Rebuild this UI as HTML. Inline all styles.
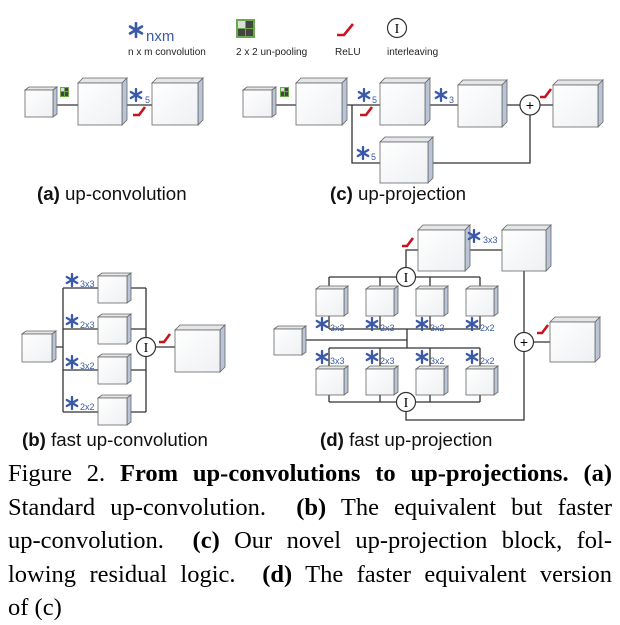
<!DOCTYPE html>
<html><head><meta charset="utf-8"><style>
body{margin:0;width:620px;height:621px;background:#fff;overflow:hidden;position:relative}
svg{position:absolute;left:0;top:0}
.cap{position:absolute;left:8px;top:457px;width:604px;font-family:"Liberation Serif",serif;font-size:24.5px;line-height:33.5px;color:#000}
.cap div{text-align:justify;text-align-last:justify;white-space:nowrap}
.cap div.l{text-align-last:left}
</style></head><body>
<svg width="620" height="460" viewBox="0 0 620 460" font-family="Liberation Sans, sans-serif">
<defs>
<linearGradient id="fg" x1="0" y1="0" x2="1" y2="1"><stop offset="0" stop-color="#fff"/><stop offset="1" stop-color="#eef0f3"/></linearGradient>
<symbol id="ast" viewBox="-7 -7 14 14" overflow="visible"><g stroke="#3a5aa8" stroke-width="2.3" stroke-linecap="round"><line x1="0" y1="-6" x2="0" y2="6"/><line x1="-5.2" y1="-3" x2="5.2" y2="3"/><line x1="-5.2" y1="3" x2="5.2" y2="-3"/></g></symbol>
</defs>
<style>
.fr{fill:url(#fg);stroke:#666;stroke-width:.8}.tp{fill:#e4e6ea;stroke:#666;stroke-width:.8}.sd{fill:#b9c4d6;stroke:#666;stroke-width:.8}
.ln{stroke:#333;stroke-width:1.3;fill:none}.re{stroke:#c8141e;stroke-width:2.6;fill:none}
.sub{fill:#3a5aa8;font-size:9px}.cir{fill:#fff;stroke:#333;stroke-width:1.2}
.lab{font-size:18.7px;fill:#111}.leg{font-size:10px;fill:#222}
</style>

<!-- legend -->
<use href="#ast" x="128" y="22" width="16" height="16"/>
<text x="146" y="41" fill="#3a5aa8" font-size="15">nxm</text>
<text x="128" y="55" class="leg">n x m convolution</text>
<rect x="236" y="19" width="19" height="19" fill="#6aaa4a"/>
<rect x="238" y="21" width="7" height="7" fill="#ddd"/><rect x="246" y="21" width="7" height="7" fill="#444"/>
<rect x="238" y="29" width="7" height="7" fill="#444"/><rect x="246" y="29" width="7" height="7" fill="#444"/>
<text x="236" y="55" class="leg">2 x 2 un-pooling</text>
<path class="re" d="M337 35 h7 l9 -11"/>
<text x="335" y="55" class="leg">ReLU</text>
<circle cx="397" cy="28" r="9.5" class="cir"/><text x="397" y="33" text-anchor="middle" font-family="Liberation Serif,serif" font-size="14">I</text>
<text x="387" y="55" class="leg">interleaving</text>

<!-- (a) -->
<path class="ln" d="M54 105 H78 M122 105 H152"/>
<g><polygon class="tp" points="25,90 29,87 57,87 53,90"/><polygon class="sd" points="53,90 57,87 57,114 53,117"/><rect class="fr" x="25" y="90" width="28" height="27"/></g>
<rect x="60" y="87" width="9" height="10" fill="#6aaa4a"/><rect x="61" y="88" width="3" height="3" fill="#ddd"/><rect x="65" y="88" width="3" height="3" fill="#444"/><rect x="61" y="92" width="3" height="4" fill="#444"/><rect x="65" y="92" width="3" height="4" fill="#444"/>
<g><polygon class="tp" points="78,83 83,78 127,78 122,83"/><polygon class="sd" points="122,83 127,78 127,120 122,125"/><rect class="fr" x="78" y="83" width="44" height="42"/></g>
<use href="#ast" x="129" y="88" width="14" height="14"/><text x="145" y="103" class="sub" font-size="11">5</text>
<path class="re" d="M133 115 h6 l6 -8"/>
<g><polygon class="tp" points="152,83 157,78 203,78 198,83"/><polygon class="sd" points="198,83 203,78 203,120 198,125"/><rect class="fr" x="152" y="83" width="46" height="42"/></g>
<text x="37" y="200" class="lab"><tspan font-weight="bold">(a)</tspan> up-convolution</text>

<!-- (c) -->
<path class="ln" d="M272 105 H296 M342 105 H380 M352 105 V163 H380 M425 105 H458 M502 105 H520 M540 105 H553 M428 163 H530 V115"/>
<g><polygon class="tp" points="243,90 247,87 276,87 272,90"/><polygon class="sd" points="272,90 276,87 276,114 272,117"/><rect class="fr" x="243" y="90" width="29" height="27"/></g>
<rect x="280" y="87" width="9" height="10" fill="#6aaa4a"/><rect x="281" y="88" width="3" height="3" fill="#ddd"/><rect x="285" y="88" width="3" height="3" fill="#444"/><rect x="281" y="92" width="3" height="4" fill="#444"/><rect x="285" y="92" width="3" height="4" fill="#444"/>
<g><polygon class="tp" points="296,83 301,78 347,78 342,83"/><polygon class="sd" points="342,83 347,78 347,120 342,125"/><rect class="fr" x="296" y="83" width="46" height="42"/></g>
<use href="#ast" x="357" y="88" width="14" height="14"/><text x="372" y="103" class="sub" font-size="11">5</text>
<path class="re" d="M360 115 h6 l6 -8"/>
<g><polygon class="tp" points="380,83 385,78 430,78 425,83"/><polygon class="sd" points="425,83 430,78 430,120 425,125"/><rect class="fr" x="380" y="83" width="45" height="42"/></g>
<use href="#ast" x="434" y="88" width="14" height="14"/><text x="449" y="103" class="sub" font-size="11">3</text>
<g><polygon class="tp" points="458,85 463,80 507,80 502,85"/><polygon class="sd" points="502,85 507,80 507,122 502,127"/><rect class="fr" x="458" y="85" width="44" height="42"/></g>
<circle cx="530" cy="105" r="10" class="cir"/><text x="530" y="110" text-anchor="middle" font-size="14">+</text>
<path class="re" d="M540 97 h5 l6 -8"/>
<g><polygon class="tp" points="553,85 558,80 603,80 598,85"/><polygon class="sd" points="598,85 603,80 603,122 598,127"/><rect class="fr" x="553" y="85" width="45" height="42"/></g>
<use href="#ast" x="356" y="146" width="14" height="14"/><text x="371" y="160" class="sub" font-size="11">5</text>
<g><polygon class="tp" points="380,142 385,137 433,137 428,142"/><polygon class="sd" points="428,142 433,137 433,178 428,183"/><rect class="fr" x="380" y="142" width="48" height="41"/></g>
<text x="330" y="200" class="lab"><tspan font-weight="bold">(c)</tspan> up-projection</text>

<!-- (b) -->
<path class="ln" d="M52 347 H63 M63 288 V412 M63 288 H98 M63 329 H98 M63 370 H98 M63 412 H98 M128 288 H146 M128 329 H146 M128 370 H146 M128 412 H146 M146 288 V412 M155 347 H175"/>
<g><polygon class="tp" points="22,334 26,331 56,331 52,334"/><polygon class="sd" points="52,334 56,331 56,359 52,362"/><rect class="fr" x="22" y="334" width="30" height="28"/></g>
<g><polygon class="tp" points="98,276 102,273 131,273 127,276"/><polygon class="sd" points="127,276 131,273 131,300 127,303"/><rect class="fr" x="98" y="276" width="29" height="27"/></g>
<g><polygon class="tp" points="98,317 102,314 131,314 127,317"/><polygon class="sd" points="127,317 131,314 131,341 127,344"/><rect class="fr" x="98" y="317" width="29" height="27"/></g>
<g><polygon class="tp" points="98,357 102,354 131,354 127,357"/><polygon class="sd" points="127,357 131,354 131,381 127,384"/><rect class="fr" x="98" y="357" width="29" height="27"/></g>
<g><polygon class="tp" points="98,398 102,395 131,395 127,398"/><polygon class="sd" points="127,398 131,395 131,422 127,425"/><rect class="fr" x="98" y="398" width="29" height="27"/></g>
<use href="#ast" x="65" y="273" width="14" height="14"/><text x="80" y="287" class="sub">3x3</text>
<use href="#ast" x="65" y="314" width="14" height="14"/><text x="80" y="328" class="sub">2x3</text>
<use href="#ast" x="65" y="355" width="14" height="14"/><text x="80" y="369" class="sub">3x2</text>
<use href="#ast" x="65" y="396" width="14" height="14"/><text x="80" y="410" class="sub">2x2</text>
<circle cx="146" cy="347" r="9.5" class="cir"/><text x="146" y="352" text-anchor="middle" font-family="Liberation Serif,serif" font-size="14">I</text>
<path class="re" d="M159 342 h5 l6 -8"/>
<g><polygon class="tp" points="175,330 180,325 225,325 220,330"/><polygon class="sd" points="220,330 225,325 225,367 220,372"/><rect class="fr" x="175" y="330" width="45" height="42"/></g>
<text x="22" y="446" class="lab"><tspan font-weight="bold">(b)</tspan> fast up-convolution</text>

<!-- (d) -->
<path class="ln" d="M406 267 V250 H418 M465 250 H502 M329 277 H480 M329 277 V287 M380 277 V287 M430 277 V287 M480 277 V287
M329 316 V329 M380 316 V329 M430 316 V329 M480 316 V329 M329 329 H480 M407 329 V348 M302 340 H407 M329 348 H480 M329 348 V367 M380 348 V367 M430 348 V367 M480 348 V367
M329 395 V402 M380 395 V402 M430 395 V402 M480 395 V402 M329 402 H480 M406 412 V420 H524 V351 M524 332 V270 M534 342 H550"/>
<g><polygon class="tp" points="418,230 423,225 470,225 465,230"/><polygon class="sd" points="465,230 470,225 470,266 465,271"/><rect class="fr" x="418" y="230" width="47" height="41"/></g>
<path class="re" d="M402 246 h5 l6 -8"/>
<use href="#ast" x="467" y="229" width="14" height="14"/><text x="483" y="243" class="sub">3x3</text>
<g><polygon class="tp" points="502,230 507,225 551,225 546,230"/><polygon class="sd" points="546,230 551,225 551,266 546,271"/><rect class="fr" x="502" y="230" width="44" height="41"/></g>
<circle cx="406" cy="277" r="9.5" class="cir"/><text x="406" y="282" text-anchor="middle" font-family="Liberation Serif,serif" font-size="14">I</text>
<g><polygon class="tp" points="316,289 320,286 348,286 344,289"/><polygon class="sd" points="344,289 348,286 348,313 344,316"/><rect class="fr" x="316" y="289" width="28" height="27"/></g>
<g><polygon class="tp" points="366,289 370,286 398,286 394,289"/><polygon class="sd" points="394,289 398,286 398,313 394,316"/><rect class="fr" x="366" y="289" width="28" height="27"/></g>
<g><polygon class="tp" points="416,289 420,286 448,286 444,289"/><polygon class="sd" points="444,289 448,286 448,313 444,316"/><rect class="fr" x="416" y="289" width="28" height="27"/></g>
<g><polygon class="tp" points="466,289 470,286 498,286 494,289"/><polygon class="sd" points="494,289 498,286 498,313 494,316"/><rect class="fr" x="466" y="289" width="28" height="27"/></g>
<use href="#ast" x="315" y="317" width="14" height="14"/><text x="330" y="331" class="sub">3x3</text>
<use href="#ast" x="365" y="317" width="14" height="14"/><text x="380" y="331" class="sub">2x3</text>
<use href="#ast" x="415" y="317" width="14" height="14"/><text x="430" y="331" class="sub">3x2</text>
<use href="#ast" x="465" y="317" width="14" height="14"/><text x="480" y="331" class="sub">2x2</text>
<g><polygon class="tp" points="274,329 278,326 306,326 302,329"/><polygon class="sd" points="302,329 306,326 306,352 302,355"/><rect class="fr" x="274" y="329" width="28" height="26"/></g>
<use href="#ast" x="315" y="350" width="14" height="14"/><text x="330" y="364" class="sub">3x3</text>
<use href="#ast" x="365" y="350" width="14" height="14"/><text x="380" y="364" class="sub">2x3</text>
<use href="#ast" x="415" y="350" width="14" height="14"/><text x="430" y="364" class="sub">3x2</text>
<use href="#ast" x="465" y="350" width="14" height="14"/><text x="480" y="364" class="sub">2x2</text>
<g><polygon class="tp" points="316,369 320,366 348,366 344,369"/><polygon class="sd" points="344,369 348,366 348,392 344,395"/><rect class="fr" x="316" y="369" width="28" height="26"/></g>
<g><polygon class="tp" points="366,369 370,366 398,366 394,369"/><polygon class="sd" points="394,369 398,366 398,392 394,395"/><rect class="fr" x="366" y="369" width="28" height="26"/></g>
<g><polygon class="tp" points="416,369 420,366 448,366 444,369"/><polygon class="sd" points="444,369 448,366 448,392 444,395"/><rect class="fr" x="416" y="369" width="28" height="26"/></g>
<g><polygon class="tp" points="466,369 470,366 498,366 494,369"/><polygon class="sd" points="494,369 498,366 498,392 494,395"/><rect class="fr" x="466" y="369" width="28" height="26"/></g>
<circle cx="406" cy="402" r="9.5" class="cir"/><text x="406" y="407" text-anchor="middle" font-family="Liberation Serif,serif" font-size="14">I</text>
<circle cx="524" cy="342" r="9.5" class="cir"/><text x="524" y="347" text-anchor="middle" font-size="14">+</text>
<path class="re" d="M537 333 h5 l6 -8"/>
<g><polygon class="tp" points="550,322 555,317 600,317 595,322"/><polygon class="sd" points="595,322 600,317 600,357 595,362"/><rect class="fr" x="550" y="322" width="45" height="40"/></g>
<text x="320" y="446" class="lab"><tspan font-weight="bold">(d)</tspan> fast up-projection</text>
</svg>
<div class="cap">
<div>Figure 2. <b>From up-convolutions to up-projections.</b> <b>(a)</b></div>
<div>Standard up-convolution. &nbsp;<b>(b)</b> The equivalent but faster</div>
<div>up-convolution. &nbsp;<b>(c)</b> Our novel up-projection block, fol-</div>
<div>lowing residual logic. &nbsp;<b>(d)</b> The faster equivalent version</div>
<div class="l">of (c)</div>
</div>
</body></html>
